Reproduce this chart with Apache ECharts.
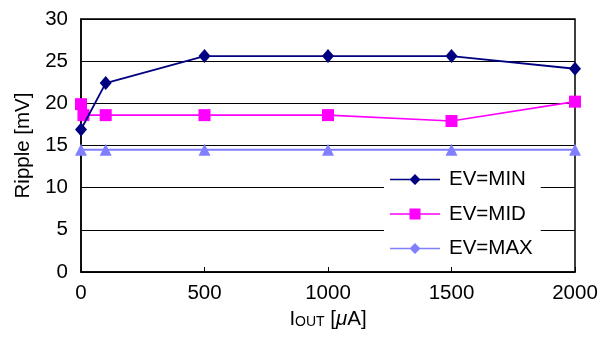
<!DOCTYPE html>
<html><head><meta charset="utf-8">
<script src="https://cdn.jsdelivr.net/npm/echarts@6/dist/echarts.min.js"></script>
<style>html,body{margin:0;padding:0;background:#fff}#c{width:611px;height:337px}</style>
</head><body><div id="c"></div>
<script>
const xTicks = [0, 500, 1000, 1500, 2000];
const yTicks = [0, 5, 10, 15, 20, 25, 30];
const seriesNames = ['EV=MIN', 'EV=MID', 'EV=MAX'];
const xMin = [0, 100, 500, 1000, 1500, 2000];
const evMin = [16.9, 22.4, 25.6, 25.6, 25.6, 24.1];
const xMid = [0, 10, 100, 500, 1000, 1500, 2000];
const evMid = [19.9, 18.6, 18.6, 18.6, 18.6, 17.9, 20.2];
const xMax = [0, 100, 500, 1000, 1500, 2000];
const evMax = [14.5, 14.5, 14.5, 14.5, 14.5, 14.5];

const colors = ['#000080', '#FF00FF', '#8080FF'];
const FONT = 'Liberation Sans, Arial, sans-serif';
const FS = 20.5;
const zip = (xs, ys) => xs.map((x, i) => [x, ys[i]]);

const lineRect = 'M0,5.2 L50,5.2 L50,6.8 L0,6.8 Z ';
const icons = [
  'path://' + lineRect + 'M25,0.5 L30.5,6 L25,11.5 L19.5,6 Z',
  'path://' + lineRect + 'M19.5,0.5 L30.5,0.5 L30.5,11.5 L19.5,11.5 Z',
  'path://' + lineRect + 'M25,0.5 L30.5,6 L25,11.5 L19.5,6 Z'
];
const symbols = ['diamond', 'rect', 'triangle'];
const sizes = [[12, 14], 12, 12];
const widths = [1.8, 1.6, 2];
const datasets = [zip(xMin, evMin), zip(xMid, evMid), zip(xMax, evMax)];

const chart = echarts.init(document.getElementById('c'));
chart.setOption({
  animation: false,
  textStyle: { fontFamily: FONT },
  grid: { left: 81, right: 36, top: 19, bottom: 65, show: true, borderColor: '#000', borderWidth: 1.5 },
  xAxis: {
    type: 'value', min: xTicks[0], max: xTicks[xTicks.length - 1], interval: 500,
    axisLine: { lineStyle: { color: '#000', width: 1.5 } },
    axisTick: { inside: true, length: 5, lineStyle: { color: '#000' } },
    splitLine: { show: false },
    axisLabel: { color: '#000', fontSize: FS, margin: 11, fontFamily: FONT, formatter: v => String(v) },
    name: '{a|I}{b|OUT}{a| [}{c|μ}{a|A]}',
    nameLocation: 'middle', nameGap: 33,
    nameTextStyle: {
      rich: {
        a: { fontSize: FS, color: '#000', fontFamily: FONT },
        b: { fontSize: 14, color: '#000', fontFamily: FONT, verticalAlign: 'bottom', padding: [0, 0, 1, 0] },
        c: { fontSize: FS, color: '#000', fontFamily: FONT, fontStyle: 'italic' }
      }
    }
  },
  yAxis: {
    type: 'value', min: yTicks[0], max: yTicks[yTicks.length - 1], interval: 5,
    axisLine: { show: true, lineStyle: { color: '#000', width: 1.5 } },
    axisTick: { show: true, inside: true, length: 5, lineStyle: { color: '#000' } },
    splitLine: { show: true, lineStyle: { color: '#000', width: 1 } },
    axisLabel: { color: '#000', fontSize: FS, margin: 13, fontFamily: FONT },
    name: 'Ripple [mV]', nameLocation: 'middle', nameGap: 44,
    nameTextStyle: { fontSize: FS, color: '#000', fontFamily: FONT }
  },
  legend: {
    orient: 'vertical', left: 384, top: 163,
    backgroundColor: '#fff', padding: [6, 8, 6, 6],
    itemWidth: 50, itemHeight: 12, itemGap: 13.5,
    textStyle: { fontSize: FS, color: '#000', fontFamily: FONT, padding: [0, 0, 0, 4] },
    data: seriesNames.map((n, i) => ({ name: n, icon: icons[i] }))
  },
  series: seriesNames.map((n, i) => ({
    name: n, type: 'line', data: datasets[i],
    symbol: symbols[i], symbolSize: sizes[i],
    lineStyle: { color: colors[i], width: widths[i] },
    itemStyle: { color: colors[i] },
    z: 3 - i
  }))
});
</script></body></html>
